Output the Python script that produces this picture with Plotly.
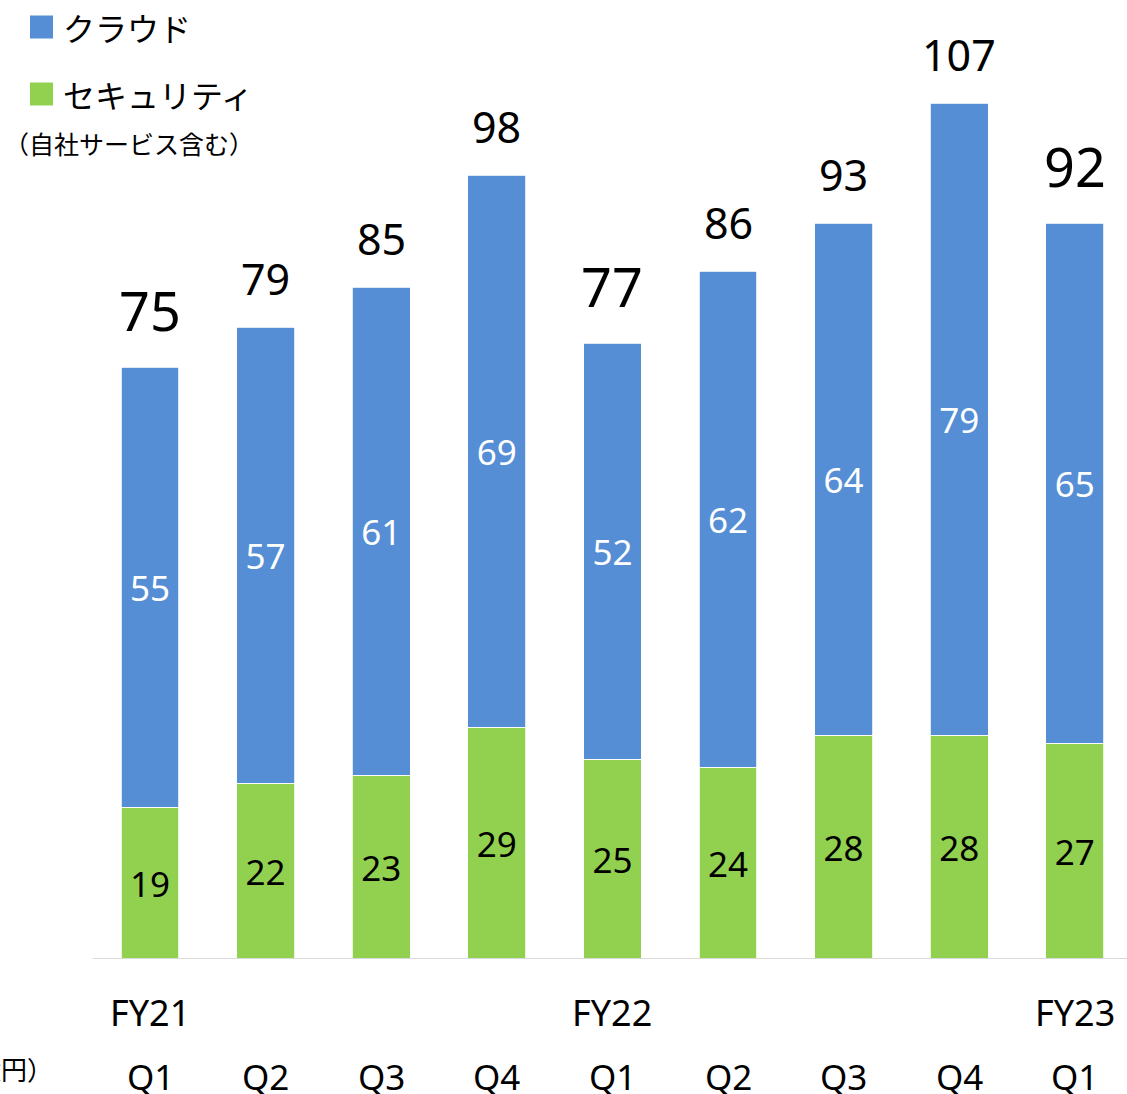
import plotly.graph_objects as go

quarters = ["Q1", "Q2", "Q3", "Q4", "Q1", "Q2", "Q3", "Q4", "Q1"]
fiscal_years = ["FY21", "", "", "", "FY22", "", "", "", "FY23"]
cloud = [55, 57, 61, 69, 52, 62, 64, 79, 65]
security = [19, 22, 23, 29, 25, 24, 28, 28, 27]
totals = [75, 79, 85, 98, 77, 86, 93, 107, 92]
big_total = [True, False, False, False, True, False, False, False, True]

BLUE = "#558ED5"
GREEN = "#92D050"
FONT_JP = "Noto Sans CJK JP"
FONT_NUM = "Noto Sans, Noto Sans CJK JP"

W, H = 1127, 1094

BASE_PAGE = 959        # y of baseline
L = 93                 # x of plot area left
PLOT_BOTTOM = BASE_PAGE
B = H - PLOT_BOTTOM
plot_w = W - L
plot_h = PLOT_BOTTOM

PX_PER_CAT = 115.6
FIRST_CENTER = 150
PX_PER_UNIT = 8.0

x = list(range(len(quarters)))

fig = go.Figure()
fig.add_trace(go.Bar(
    x=x, y=security, width=0.5, marker=dict(color=GREEN, line=dict(color="white", width=0.8)),
    text=[str(v) for v in security], textposition="inside", insidetextanchor="middle",
    textfont=dict(color="black", size=35, family=FONT_NUM), showlegend=False,
    textangle=0, hoverinfo="skip",
))
fig.add_trace(go.Bar(
    x=x, y=cloud, width=0.5, marker=dict(color=BLUE, line=dict(color="white", width=0.8)),
    text=[str(v) for v in cloud], textposition="inside", insidetextanchor="middle",
    textfont=dict(color="white", size=35, family=FONT_NUM), showlegend=False,
    textangle=0, hoverinfo="skip",
))

annotations = []
for i, (c, s, t, big) in enumerate(zip(cloud, security, totals, big_total)):
    annotations.append(dict(
        x=i, y=c + s, xref="x", yref="y", text=str(t), showarrow=False,
        yanchor="middle", yshift=57 if big else 49,
        font=dict(size=54 if big else 43, color="black", family=FONT_NUM),
    ))
    annotations.append(dict(
        x=i, y=0, xref="x", yref="y", text=quarters[i], showarrow=False,
        yanchor="middle", yshift=-(1076 - BASE_PAGE),
        font=dict(size=35, color="black", family=FONT_NUM),
    ))
    if fiscal_years[i]:
        annotations.append(dict(
            x=i, y=0, xref="x", yref="y", text=fiscal_years[i], showarrow=False,
            yanchor="middle", yshift=-(1012 - BASE_PAGE),
            font=dict(size=36, color="black", family=FONT_NUM),
        ))


def px(p):
    return (p - L) / plot_w


def py(p):
    return (PLOT_BOTTOM - p) / plot_h


legend_items = [("クラウド", BLUE, 27), ("セキュリティ", GREEN, 94)]
shapes = []
for label, color, yc in legend_items:
    shapes.append(dict(type="rect", xref="paper", yref="paper",
                       x0=px(30), x1=px(53), y0=py(yc + 11.5), y1=py(yc - 11.5),
                       fillcolor=color, line=dict(width=0)))
    annotations.append(dict(x=px(61), y=py(yc), xref="paper", yref="paper", text=label,
                            showarrow=False, xanchor="left", yanchor="middle",
                            font=dict(size=32, color="black", family=FONT_JP)))
annotations.append(dict(x=px(2), y=py(143), xref="paper", yref="paper", text="（自社サービス含む）",
                        showarrow=False, xanchor="left", yanchor="middle",
                        font=dict(size=25, color="black", family=FONT_JP)))
annotations.append(dict(x=px(55), y=py(1068), xref="paper", yref="paper", text="（億円）",
                        showarrow=False, xanchor="right", yanchor="middle",
                        font=dict(size=26, color="black", family=FONT_JP)))

shapes.append(dict(type="line", xref="paper", yref="y", x0=0, x1=1, y0=0, y1=0,
                   line=dict(color="#D9D9D9", width=2)))

fig.update_layout(
    barmode="stack",
    width=W, height=H,
    margin=dict(l=L, r=0, t=0, b=B),
    plot_bgcolor="white", paper_bgcolor="white",
    xaxis=dict(range=[(L - FIRST_CENTER) / PX_PER_CAT, (W - FIRST_CENTER) / PX_PER_CAT],
               showticklabels=False, showgrid=False, zeroline=False, showline=False),
    yaxis=dict(range=[0, PLOT_BOTTOM / PX_PER_UNIT], showticklabels=False, showgrid=False,
               zeroline=False, showline=False),
    annotations=annotations,
    shapes=shapes,
    uniformtext=dict(minsize=35, mode="show"),
    font=dict(family=FONT_JP),
)

fig.write_html(
    "out.html",
    config={"displayModeBar": False},
    post_script="document.body.style.margin='0';document.body.style.overflow='hidden';",
)
